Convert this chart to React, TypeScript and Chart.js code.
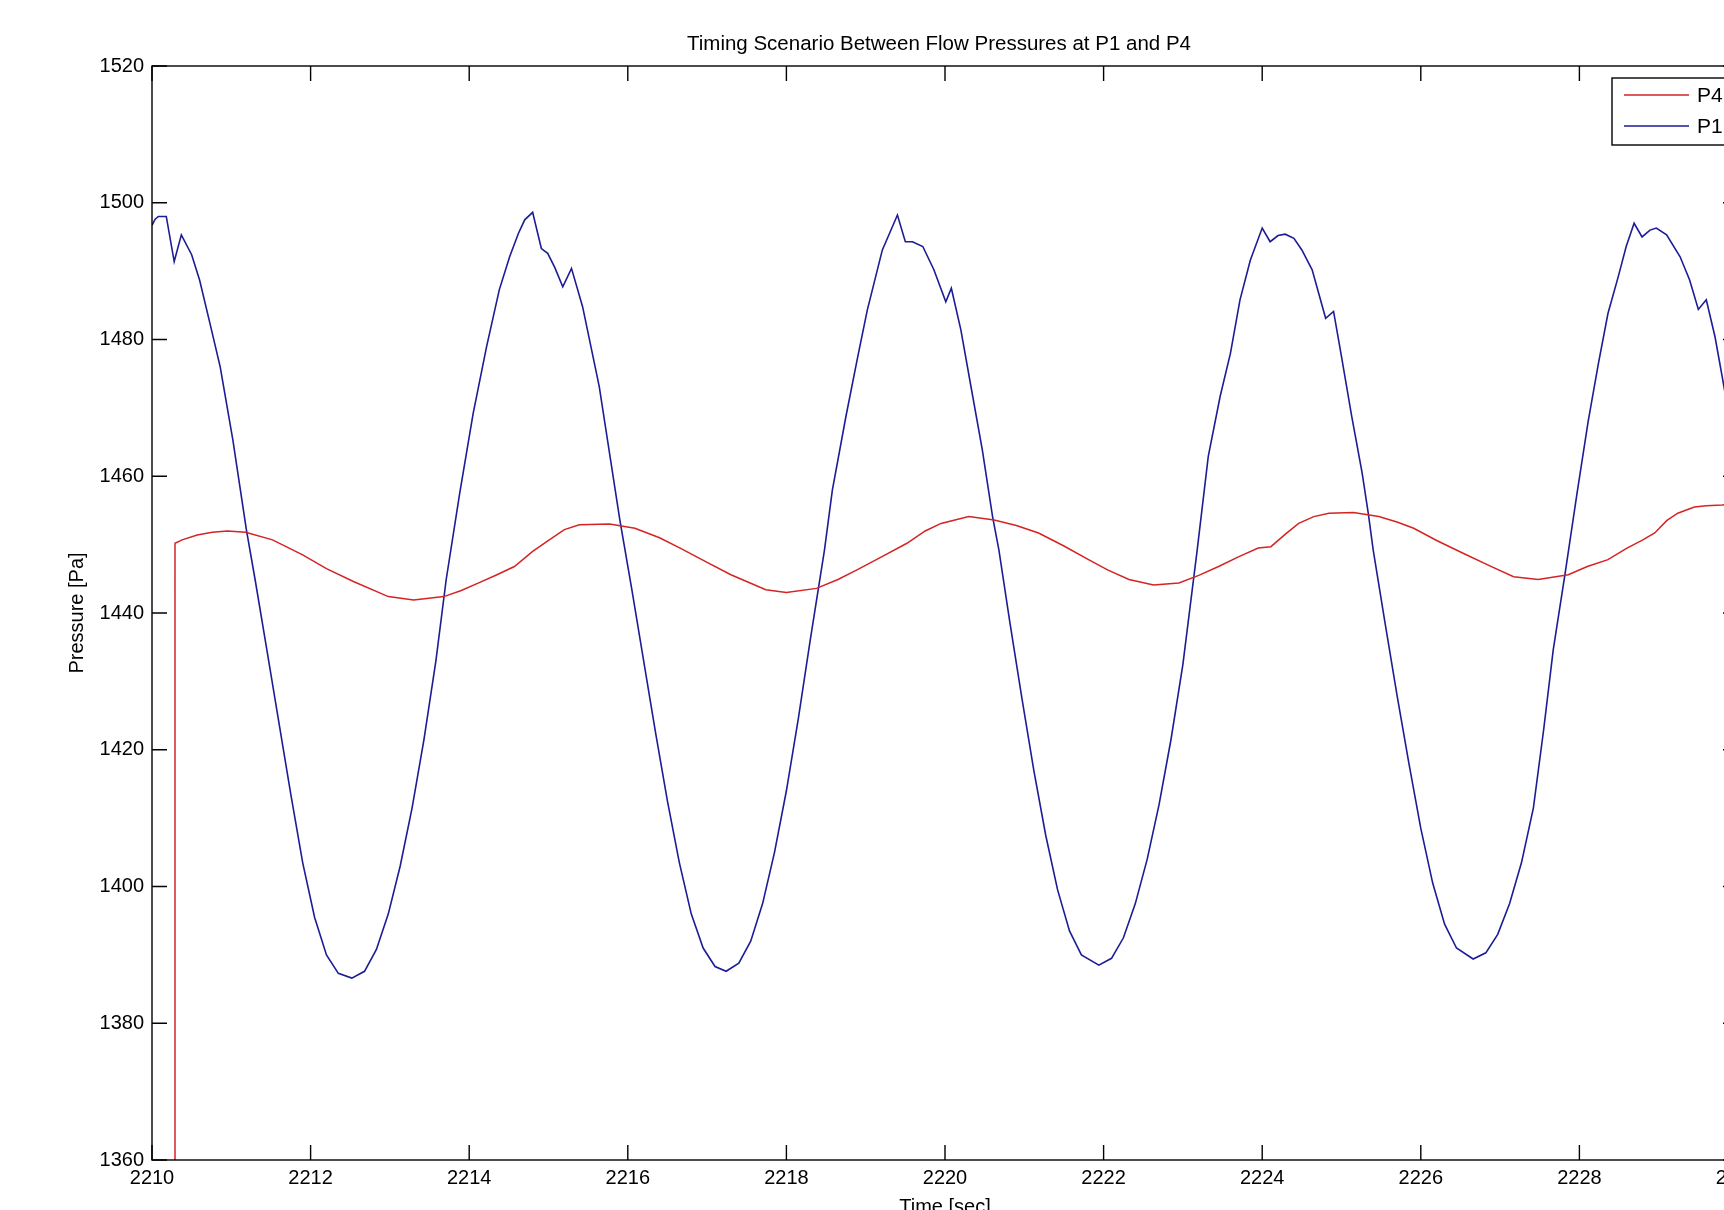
import React, { useEffect, useRef } from "react";
import { Chart, registerables } from "chart.js";

Chart.register(...registerables);

// ---- data ----
const chartTitle = "Timing Scenario Between Flow Pressures at P1 and P4";
const xAxisTitle = "Time [sec]";
const yAxisTitle = "Pressure [Pa]";
const seriesLabels = ["P4", "P1"];
const seriesColors = ["#d42424", "#1c1c96"];

const xMin = 2210;
const xMax = 2230;
const xStep = 2;
const yMin = 1360;
const yMax = 1520;
const yStep = 20;

const p1Time = [
  2210.0, 2210.04, 2210.08, 2210.18, 2210.28, 2210.37, 2210.5, 2210.6, 2210.73, 2210.86,
  2211.02, 2211.19, 2211.3, 2211.45, 2211.6, 2211.75, 2211.9, 2212.05, 2212.2, 2212.35,
  2212.52, 2212.68, 2212.83, 2212.98, 2213.13, 2213.28, 2213.43, 2213.58, 2213.71, 2213.88,
  2214.05, 2214.22, 2214.38, 2214.51, 2214.62, 2214.7, 2214.8, 2214.91, 2214.99, 2215.08,
  2215.18, 2215.29, 2215.43, 2215.64, 2215.9, 2216.05, 2216.2, 2216.35, 2216.5, 2216.65,
  2216.8, 2216.95, 2217.1, 2217.24, 2217.4, 2217.55, 2217.7, 2217.85, 2218.0, 2218.15,
  2218.3, 2218.48, 2218.58, 2218.75, 2218.9, 2219.02, 2219.21, 2219.3, 2219.4, 2219.5,
  2219.59, 2219.72, 2219.86, 2220.01, 2220.08, 2220.2, 2220.32, 2220.47, 2220.6, 2220.68,
  2220.82, 2220.97, 2221.12, 2221.27, 2221.42, 2221.57, 2221.72, 2221.94, 2222.1, 2222.25,
  2222.4, 2222.55, 2222.7, 2222.85, 2223.0, 2223.18, 2223.32, 2223.47, 2223.6, 2223.72,
  2223.85, 2224.0, 2224.1, 2224.2, 2224.29, 2224.4, 2224.5, 2224.63, 2224.8, 2224.9,
  2225.0, 2225.13, 2225.26, 2225.34, 2225.4, 2225.55, 2225.7, 2225.85, 2226.0, 2226.15,
  2226.3, 2226.45, 2226.66, 2226.82, 2226.97, 2227.12, 2227.27, 2227.42, 2227.55, 2227.67,
  2227.82, 2227.97, 2228.11, 2228.24, 2228.36, 2228.49, 2228.59, 2228.69, 2228.79, 2228.89,
  2228.97, 2229.1, 2229.27, 2229.39, 2229.5, 2229.6, 2229.71, 2229.8, 2229.9, 2230.0,
];
const p1Pressure = [
  1496.7, 1497.6, 1498.0, 1498.0, 1491.4, 1495.3, 1492.4, 1488.7, 1482.4, 1476.0,
  1465.3, 1452.2, 1444.9, 1434.5, 1424.0, 1413.5, 1403.5, 1395.5, 1390.0, 1387.3,
  1386.6, 1387.6, 1390.8, 1396.0, 1403.0, 1411.5, 1421.5, 1433.0, 1444.9, 1457.5,
  1469.2, 1479.0, 1487.3, 1492.1, 1495.5, 1497.5, 1498.6, 1493.3, 1492.6, 1490.5,
  1487.7, 1490.4, 1484.8, 1473.1, 1453.6, 1443.5, 1433.0, 1422.5, 1412.5, 1403.5,
  1396.0, 1391.0, 1388.3, 1387.6, 1388.8, 1392.0, 1397.5, 1405.0, 1414.0, 1424.5,
  1436.0, 1449.2, 1458.0, 1468.7, 1477.5, 1484.3, 1493.1, 1495.5, 1498.2, 1494.3,
  1494.3, 1493.6, 1490.2, 1485.5, 1487.5, 1481.4, 1473.6, 1463.9, 1454.1, 1449.2,
  1438.5, 1427.5, 1417.0, 1407.5, 1399.5, 1393.5, 1390.0, 1388.5, 1389.5, 1392.5,
  1397.5, 1404.0, 1412.0, 1421.5, 1432.5, 1449.2, 1462.9, 1471.7, 1478.0, 1485.8,
  1491.6, 1496.3, 1494.3, 1495.2, 1495.4, 1494.8, 1493.1, 1490.2, 1483.1, 1484.1,
  1477.5, 1468.7, 1460.5, 1454.4, 1449.2, 1438.5, 1428.0, 1418.0, 1408.5, 1400.5,
  1394.5, 1391.0, 1389.4, 1390.3, 1393.0, 1397.5, 1403.5, 1411.5, 1423.0, 1434.6,
  1445.8, 1457.5, 1468.0, 1476.5, 1483.8, 1489.2, 1493.6, 1497.0, 1495.0, 1496.0,
  1496.3, 1495.3, 1492.1, 1488.7, 1484.4, 1485.8, 1480.4, 1474.6, 1468.0, 1461.0,
];

const p4Time = [
  2210.28, 2210.29, 2210.38, 2210.57, 2210.76, 2210.95, 2211.18, 2211.52, 2211.9, 2212.2,
  2212.54, 2212.98, 2213.3, 2213.68, 2213.9, 2214.12, 2214.35, 2214.57, 2214.8, 2215.01,
  2215.2, 2215.39, 2215.77, 2216.09, 2216.4, 2216.66, 2217.0, 2217.3, 2217.74, 2218.0,
  2218.38, 2218.65, 2218.89, 2219.2, 2219.52, 2219.75, 2219.95, 2220.3, 2220.62, 2220.9,
  2221.18, 2221.5, 2221.81, 2222.05, 2222.32, 2222.63, 2222.95, 2223.2, 2223.45, 2223.7,
  2223.95, 2224.11, 2224.3, 2224.46, 2224.65, 2224.84, 2225.15, 2225.47, 2225.7, 2225.91,
  2226.2, 2226.54, 2226.85, 2227.17, 2227.48, 2227.86, 2228.1, 2228.36, 2228.6, 2228.8,
  2228.95, 2229.1, 2229.24, 2229.45, 2229.6, 2229.8, 2230.0,
];
const p4Pressure = [
  1300.0, 1450.2, 1450.7, 1451.4, 1451.8, 1452.0, 1451.8, 1450.7, 1448.5, 1446.5,
  1444.6, 1442.4, 1441.9, 1442.4, 1443.3, 1444.4, 1445.6, 1446.8, 1449.0, 1450.7,
  1452.2, 1452.9, 1453.0, 1452.4, 1451.0, 1449.5, 1447.4, 1445.6, 1443.4, 1443.0,
  1443.6, 1444.9, 1446.3, 1448.2, 1450.2, 1452.0, 1453.1, 1454.1, 1453.6, 1452.8,
  1451.7, 1449.8, 1447.8, 1446.3, 1444.9, 1444.1, 1444.4, 1445.5, 1446.8, 1448.2,
  1449.5, 1449.7, 1451.6, 1453.1, 1454.1, 1454.6, 1454.7, 1454.1, 1453.3, 1452.4,
  1450.6, 1448.7, 1447.0, 1445.3, 1444.9, 1445.6, 1446.8, 1447.8, 1449.5, 1450.7,
  1451.7, 1453.5, 1454.6, 1455.5, 1455.7, 1455.8, 1456.0,
];

const FONT = "'Liberation Sans', Arial, Helvetica, sans-serif";

const framePlugin = {
  id: "matlabFrame",
  afterDatasetsDraw(chart: any) {
    const { ctx, chartArea: a, scales } = chart;
    const xs = scales.x;
    const ys = scales.y;
    const L = 15;
    ctx.save();
    ctx.strokeStyle = "#000";
    ctx.lineWidth = 1.4;
    ctx.strokeRect(a.left, a.top, a.right - a.left, a.bottom - a.top);
    ctx.beginPath();
    xs.ticks.forEach((t: any) => {
      const px = xs.getPixelForValue(t.value);
      ctx.moveTo(px, a.bottom);
      ctx.lineTo(px, a.bottom - L);
      ctx.moveTo(px, a.top);
      ctx.lineTo(px, a.top + L);
    });
    ys.ticks.forEach((t: any) => {
      const py = ys.getPixelForValue(t.value);
      ctx.moveTo(a.left, py);
      ctx.lineTo(a.left + L, py);
      ctx.moveTo(a.right, py);
      ctx.lineTo(a.right - L, py);
    });
    ctx.stroke();

    // chart title, centred over the axes like MATLAB
    ctx.fillStyle = "#000";
    ctx.font = `20.5px ${FONT}`;
    ctx.textAlign = "center";
    ctx.textBaseline = "middle";
    ctx.fillText(chartTitle, (a.left + a.right) / 2 - 6, a.top - 22);

    // legend box (MATLAB style, top-right inside axes)
    const boxLeft = a.right - 126;
    const boxTop = a.top + 12;
    const boxW = 120;
    const rowH = 31;
    const boxH = rowH * chart.data.datasets.length + 5;
    ctx.fillStyle = "#fff";
    ctx.fillRect(boxLeft, boxTop, boxW, boxH);
    ctx.lineWidth = 1.4;
    ctx.strokeRect(boxLeft, boxTop, boxW, boxH);
    ctx.font = `21px ${FONT}`;
    ctx.textBaseline = "middle";
    ctx.textAlign = "left";
    chart.data.datasets.forEach((ds: any, i: number) => {
      const cy = boxTop + 17 + i * rowH;
      ctx.strokeStyle = ds.borderColor;
      ctx.lineWidth = 1.5;
      ctx.beginPath();
      ctx.moveTo(boxLeft + 12, cy);
      ctx.lineTo(boxLeft + 77, cy);
      ctx.stroke();
      ctx.fillStyle = "#000";
      ctx.fillText(ds.label, boxLeft + 85, cy + 1);
    });
    ctx.restore();
  },
};

export default function App() {
  const canvasRef = useRef<HTMLCanvasElement | null>(null);

  useEffect(() => {
    const canvas = canvasRef.current;
    if (!canvas) return;
    const toPoints = (xsArr: number[], ysArr: number[]) =>
      xsArr.map((x, i) => ({ x, y: ysArr[i] }));

    const chart = new Chart(canvas, {
      type: "scatter",
      data: {
        datasets: [
          {
            label: seriesLabels[0],
            data: toPoints(p4Time, p4Pressure),
            showLine: true,
            borderColor: seriesColors[0],
            backgroundColor: seriesColors[0],
            borderWidth: 1.5,
            pointRadius: 0,
            tension: 0,
          },
          {
            label: seriesLabels[1],
            data: toPoints(p1Time, p1Pressure),
            showLine: true,
            borderColor: seriesColors[1],
            backgroundColor: seriesColors[1],
            borderWidth: 1.6,
            pointRadius: 0,
            tension: 0,
          },
        ],
      },
      options: {
        animation: false,
        responsive: false,
        maintainAspectRatio: false,
        devicePixelRatio: 1,
        layout: { padding: { top: 66, left: 0, right: 62, bottom: 0 } },
        plugins: {
          legend: { display: false },
          tooltip: { enabled: false },
          title: { display: false },
        },
        scales: {
          x: {
            type: "linear",
            min: xMin,
            max: xMax,
            grid: { display: false, drawTicks: false },
            border: { display: false },
            ticks: {
              stepSize: xStep,
              autoSkip: false,
              maxRotation: 0,
              padding: 6,
              color: "#000",
              font: { family: FONT, size: 20 },
              callback: (v: any) => String(v),
            },
            title: {
              display: true,
              text: xAxisTitle,
              color: "#000",
              font: { family: FONT, size: 20, lineHeight: 1.2 },
              padding: { top: 0, bottom: 21 },
            },
            afterFit: (s: any) => {
              s.height = 80;
            },
          },
          y: {
            type: "linear",
            min: yMin,
            max: yMax,
            grid: { display: false, drawTicks: false },
            border: { display: false },
            ticks: {
              stepSize: yStep,
              autoSkip: false,
              padding: 8,
              color: "#000",
              font: { family: FONT, size: 20 },
              callback: (v: any) => String(v),
            },
            title: {
              display: true,
              text: yAxisTitle,
              color: "#000",
              font: { family: FONT, size: 20, lineHeight: 1.2 },
              padding: { top: 65, bottom: 0 },
            },
            afterFit: (s: any) => {
              s.width = 152;
            },
          },
        },
      },
      plugins: [framePlugin],
    });
    return () => chart.destroy();
  }, []);

  return (
    <div
      style={{
        position: "fixed",
        left: 0,
        top: 0,
        width: 1724,
        height: 1210,
        overflow: "hidden",
        background: "#fff",
      }}
    >
      <canvas
        ref={canvasRef}
        width={1800}
        height={1240}
        style={{ display: "block", width: 1800, height: 1240 }}
      />
    </div>
  );
}
